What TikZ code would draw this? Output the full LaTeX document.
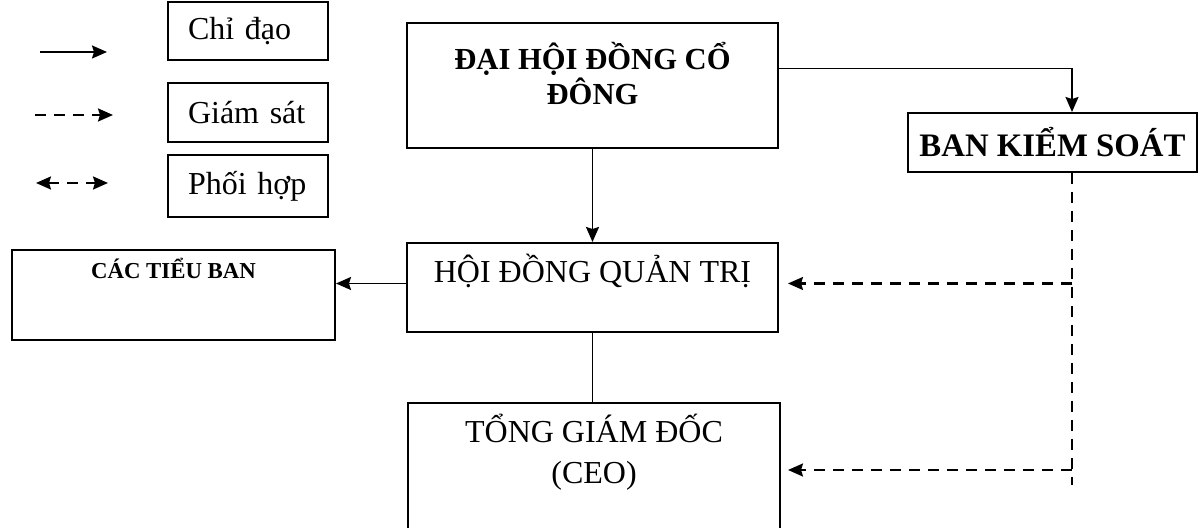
\documentclass[tikz,border=0pt]{standalone}
\usepackage{fontspec}
\setmainfont{Liberation Serif}
\usetikzlibrary{positioning,calc,arrows.meta}

\begin{document}
\begin{tikzpicture}
[x=0.5pt,y=-0.5pt,
  lineDecorate/.style={line width=0.9pt},%
  chiDao/.style={lineDecorate,-{Stealth[length=7.5pt,width=6.5pt,inset=1pt]}},%
  giamSat/.style={line width=1.1pt,dash pattern=on 5.5pt off 4pt},%
  giamSatArrow/.style={giamSat,-{Stealth[length=7.5pt,width=6.5pt,inset=1pt]}},%
  phoiHop/.style={giamSat,{Stealth[length=7.5pt,width=6.5pt,inset=1pt]}-{Stealth[length=7.5pt,width=6.5pt,inset=1pt]}},%
  nodeDecorate/.style={shape=rectangle,draw,line width=1pt,inner sep=0pt},%
  legendDecorate/.style={nodeDecorate,minimum width=80pt,text width=60pt,inner xsep=10pt,align=left,font=\fontsize{16}{18}\selectfont},%
  titleBold/.style={inner sep=0pt,align=center,font=\fontsize{15.3}{16}\selectfont\bfseries},%
  titlePlain/.style={inner sep=0pt,align=center,font=\fontsize{16}{18}\selectfont}]
\useasboundingbox (0,0) rectangle (1201,528);
\clip (0,0) rectangle (1201,528);
\fill[white] (0,0) rectangle (1201,528);
%% legend
\foreach \nodename/\y/\h/\txt in {
  chi/31/29/Chỉ đạo, giam/112.5/29.5/Giám sát, phoi/186/31/Phối hợp}
{
  \node (\nodename) at (248,\y) [legendDecorate,minimum height=\h pt] {\txt};
}
\coordinate (chiA) at (40,52);
\coordinate (chiB) at (107,52);
\coordinate (giamA) at (35,115);
\coordinate (giamB) at (113,115);
\coordinate (phoiA) at (36,183);
\coordinate (phoiB) at (108,183);
\draw[chiDao] (chiA) -- (chiB);
\draw[giamSatArrow] (giamA) -- (giamB);
\draw[phoiHop] (phoiA) -- (phoiB);
%% boxes
\node (dhdcd) at (592.5,85.5) [nodeDecorate,minimum width=185.5pt,minimum height=62.5pt] {};
\node (dhdcdText) [titleBold,below=10pt of dhdcd.north] {ĐẠI HỘI ĐỒNG CỔ\\ĐÔNG};
\node (bks) at (1052.5,142.5) [nodeDecorate,minimum width=144.5pt,minimum height=29.5pt,
  font=\fontsize{16.4}{18}\selectfont\bfseries] {BAN KIỂM SOÁT};
\node (hdqt) at (592.5,287.5) [nodeDecorate,minimum width=185.5pt,minimum height=44.5pt] {};
\node (hdqtText) [titlePlain,below=6pt of hdqt.north] {HỘI ĐỒNG QUẢN TRỊ};
\node (tieuban) at (173.5,295) [nodeDecorate,minimum width=161.5pt,minimum height=45pt] {};
\node (tieubanText) [inner sep=0pt,font=\fontsize{11.4}{13}\selectfont\bfseries,
  below=4.5pt of tieuban.north] {CÁC TIỂU BAN};
\node (tgd) at (594,474) [nodeDecorate,minimum width=186pt,minimum height=71pt] {};
\node (tgdText) [titlePlain,font=\fontsize{16}{20.5}\selectfont,below=6pt of tgd.north] {TỔNG GIÁM ĐỐC\\(CEO)};
%% edges or lines
\draw[chiDao] (dhdcd) -- (hdqt);
\draw[chiDao] ($(dhdcd.east)+(0,-17)$) -| ($(bks.north)+(19.5,0)$);
\draw[chiDao] ($(hdqt.west)+(0,-4)$) -- ($(hdqt.west -| tieuban.east)+(0,-4)$);
\draw[lineDecorate] (hdqt.south) -- (hdqt.south |- tgd.north);
\coordinate (ksTop) at ($(bks.south)+(19.5,0)$);
\coordinate (ksEnd) at (1072,485);
\draw[giamSat] (ksTop) -- (ksEnd);
\draw[giamSatArrow,shorten >=4.5pt] ($(ksTop |- hdqt.east)+(0,-4)$) -- ($(hdqt.east)+(0,-4)$);
\draw[giamSatArrow,shorten >=3.5pt] ($(ksTop |- tgd.east)+(0,-4)$) -- ($(tgd.east)+(0,-4)$);
\end{tikzpicture}
\end{document}
